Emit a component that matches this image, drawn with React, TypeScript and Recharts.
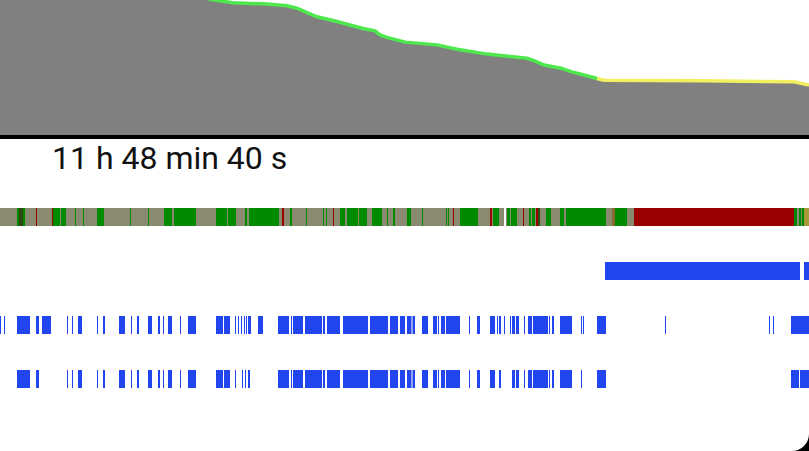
import React from "react";
import { ComposedChart, Area, Line, XAxis, YAxis, ReferenceLine, ReferenceArea } from "recharts";

// time in minutes since start of the visible window, battery level in percent
const timeMin = [0, 100, 180, 210, 233, 267, 287, 297, 307, 317, 333, 350, 363, 375, 380, 387, 405, 437, 457, 487, 527, 534, 544, 561, 571, 584, 597, 604, 704, 794, 809];
const levelPct = [56, 50, 43, 40.2, 39.2, 38.8, 38.3, 37.6, 36.3, 35.1, 34.0, 32.7, 31.7, 31.0, 29.8, 29.1, 27.7, 26.9, 25.6, 24.2, 23.0, 22.3, 21.0, 20.1, 19.1, 18.1, 17.1, 16.6, 16.4, 16.1, 15.2];
const warnStartMin = 597;
const durationLabel = "11 h 48 min 40 s";
const windowMin: [number, number] = [0, 809];

// status (signal) row segments [start, end] in minutes
const statusBase: [number, number][] = [[0, 809]];
const statusGreen: [number, number][] = [
  [17, 19], [23, 25], [53, 60], [61, 66], [75, 76], [83, 84], [97, 104], [130, 131], [148, 149],
  [164, 172], [174, 196], [216, 227], [228, 236], [245, 247], [249, 279], [290, 292], [306, 307],
  [323, 324], [326, 327], [340, 345], [347, 358], [359, 367], [372, 382], [387, 388], [393, 395],
  [407, 411], [422, 423], [446, 447], [448, 449], [460, 478], [493, 499], [507, 510], [511, 517],
  [529, 531], [532, 535], [546, 551], [560, 564], [566, 606], [615, 627], [794, 797], [799, 801], [802, 804],
];
const statusDark: [number, number][] = [[19, 23], [538, 540]];
const statusRed: [number, number][] = [
  [36, 37], [52, 53], [282, 284], [333, 334], [453, 454], [490, 492], [523, 524], [536, 538], [634, 794],
];
const statusBrown: [number, number][] = [[612, 615]];
const statusOchre: [number, number][] = [[804, 809]];
const statusGap: [number, number][] = [[504, 506]];

// blue timeline rows
const row1: [number, number][] = [[605, 800], [804, 809]];
const row2: [number, number][] = [
  [0, 1], [4, 5], [17, 30], [36, 39], [42, 51], [67, 68], [72, 73], [78, 82], [97, 98], [103, 105],
  [119, 125], [131, 132], [137, 139], [148, 152], [158, 160], [163, 164], [168, 172], [180, 181],
  [188, 196], [216, 223], [224, 230], [235, 236], [238, 239], [241, 242], [244, 245], [246, 247],
  [248, 251], [258, 263], [278, 289], [291, 292], [293, 303], [305, 322], [323, 325], [327, 340],
  [343, 368], [370, 388], [390, 398], [400, 405], [407, 411], [411.5, 412.5], [413, 415], [422, 428],
  [433, 437], [438, 439], [441, 445], [446, 460], [469, 470], [477, 480], [490, 495], [497, 498],
  [499, 501], [504, 505], [510, 511], [512, 515], [516, 519], [524, 525], [528, 532], [533, 548],
  [549, 550], [552, 554], [560, 572], [581, 582], [583, 584], [597, 606], [665, 666], [769, 770],
  [773, 774], [791, 809],
];
const row3: [number, number][] = [
  [17, 30], [36, 39], [67, 68], [72, 73], [78, 82], [97, 98], [103, 105], [119, 125], [131, 132],
  [137, 139], [148, 152], [158, 160], [163, 164], [168, 172], [180, 181], [188, 196], [216, 223],
  [224, 230], [235, 236], [242, 243], [245, 246], [248, 250], [278, 289], [291, 292], [293, 303],
  [305, 322], [323, 325], [327, 340], [343, 368], [370, 388], [390, 398], [400, 405], [407, 411],
  [411.5, 412.5], [413, 415], [422, 428], [433, 437], [438, 439], [441, 445], [446, 460], [469, 470],
  [477, 480], [490, 495], [499, 501], [512, 515], [516, 519], [524, 525], [528, 532], [533, 548],
  [549, 550], [552, 554], [560, 572], [581, 582], [597, 606], [791, 799], [800, 809],
];

const levelData = timeMin.map((t, i) => ({
  t,
  level: levelPct[i],
  good: t <= warnStartMin ? levelPct[i] : null,
  warn: t >= warnStartMin ? levelPct[i] : null,
}));

const BLUE = "#2146ef";

function segs(list: [number, number][], row: number, fill: string, key: string) {
  return list.map(([a, b], i) => (
    <ReferenceArea
      key={key + i}
      x1={a}
      x2={b}
      y1={row + 1 / 6}
      y2={row + 0.5}
      fill={fill}
      fillOpacity={1}
      stroke="none"
      ifOverflow="visible"
    />
  ));
}

export default function App() {
  return (
    <div style={{ position: "fixed", left: 0, top: 0, width: 809, height: 451, background: "#000", overflow: "hidden" }}>
      <div style={{ position: "absolute", left: 0, top: 0, width: 809, height: 451, background: "#fff", borderBottomRightRadius: 17 }}>
        <div style={{ position: "absolute", left: 0, top: 0 }}>
          <ComposedChart width={809} height={139} data={levelData} margin={{ top: 0, right: 0, bottom: 2, left: 0 }}>
            <XAxis dataKey="t" type="number" domain={windowMin} hide allowDataOverflow />
            <YAxis type="number" domain={[0, 40]} hide allowDataOverflow />
            <Area dataKey="level" type="linear" fill="#808080" fillOpacity={1} stroke="none" isAnimationActive={false} />
            <Line dataKey="good" type="linear" stroke="#4ee84e" strokeWidth={3.5} dot={false} connectNulls={false} isAnimationActive={false} />
            <Line dataKey="warn" type="linear" stroke="#f2f060" strokeWidth={3.5} dot={false} connectNulls={false} isAnimationActive={false} />
            <ReferenceLine y={0} stroke="#000" strokeWidth={4} />
          </ComposedChart>
        </div>
        <div
          style={{
            position: "absolute",
            left: 52,
            top: 139,
            fontFamily: "Roboto, sans-serif",
            fontSize: 32,
            lineHeight: "normal",
            color: "#111",
            whiteSpace: "nowrap",
          }}
        >
          {durationLabel}
        </div>
        <div style={{ position: "absolute", left: 0, top: 199 }}>
          <ComposedChart width={809} height={216} data={[{ t: 0 }, { t: 809 }]} margin={{ top: 0, right: 0, bottom: 0, left: 0 }}>
            <XAxis dataKey="t" type="number" domain={windowMin} hide allowDataOverflow />
            <YAxis type="number" domain={[0, 4]} reversed hide allowDataOverflow />
            {segs(statusBase, 0, "#8a8a70", "sb")}
            {segs(statusGreen, 0, "#008a00", "sg")}
            {segs(statusDark, 0, "#2f4a10", "sd")}
            {segs(statusRed, 0, "#9a0000", "sr")}
            {segs(statusBrown, 0, "#8a6a30", "sw")}
            {segs(statusOchre, 0, "#a89a3a", "so")}
            {segs(statusGap, 0, "#ffffff", "sx")}
            {segs(row1, 1, BLUE, "r1")}
            {segs(row2, 2, BLUE, "r2")}
            {segs(row3, 3, BLUE, "r3")}
          </ComposedChart>
        </div>
      </div>
    </div>
  );
}
